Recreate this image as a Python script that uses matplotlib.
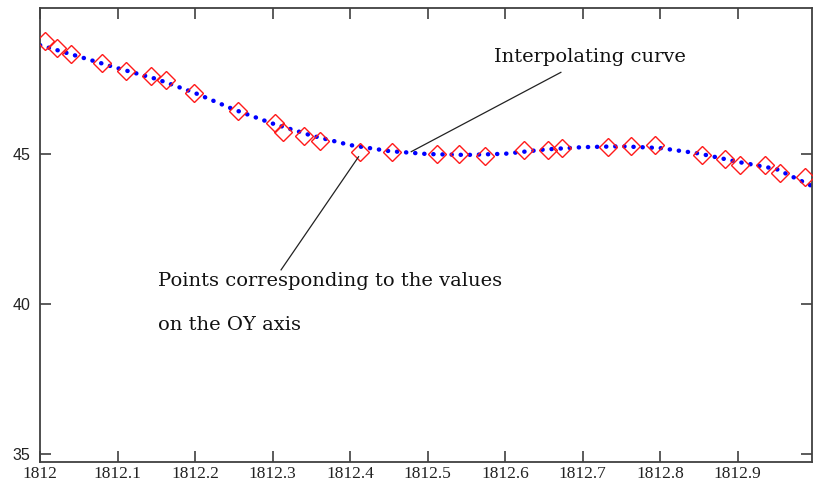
import matplotlib
matplotlib.use("Agg")
import matplotlib.pyplot as plt

# Data points (red diamonds)
point_x = [1812.006, 1812.022, 1812.040, 1812.080, 1812.111, 1812.143, 1812.163,
           1812.199, 1812.255, 1812.303, 1812.314, 1812.341, 1812.361, 1812.413,
           1812.454, 1812.512, 1812.541, 1812.574, 1812.624, 1812.655, 1812.673,
           1812.733, 1812.763, 1812.794, 1812.854, 1812.884, 1812.903, 1812.935,
           1812.955, 1812.987]
point_y = [48.78, 48.54, 48.35, 48.04, 47.79, 47.62, 47.48,
           47.04, 46.46, 46.04, 45.75, 45.61, 45.45, 45.09,
           45.07, 45.00, 45.00, 44.94, 45.13, 45.15, 45.21,
           45.24, 45.27, 45.30, 44.98, 44.84, 44.66, 44.66,
           44.39, 44.25]

# Interpolating curve (blue dotted)
curve_x = [1812.00, 1812.05, 1812.10, 1812.15, 1812.20, 1812.25, 1812.30,
           1812.35, 1812.40, 1812.45, 1812.50, 1812.55, 1812.60, 1812.65,
           1812.70, 1812.75, 1812.80, 1812.85, 1812.90, 1812.95, 1812.996]
curve_y = [48.65, 48.27, 47.88, 47.52, 47.05, 46.50, 46.03,
           45.63, 45.31, 45.11, 45.01, 44.98, 45.02, 45.16,
           45.24, 45.27, 45.21, 45.03, 44.75, 44.51, 43.94]

x_ticks = [1812, 1812.1, 1812.2, 1812.3, 1812.4, 1812.5, 1812.6, 1812.7, 1812.8, 1812.9]
x_tick_labels = ["1812", "1812.1", "1812.2", "1812.3", "1812.4", "1812.5",
                 "1812.6", "1812.7", "1812.8", "1812.9"]
y_ticks = [35, 40, 45]
y_tick_labels = ["35", "40", "45"]

fig = plt.figure(figsize=(8.15, 4.92), dpi=100)
ax = fig.add_axes([40 / 815, 1 - 462 / 492, 772 / 815, 454 / 492])

ax.plot(curve_x, curve_y, color="#0000ff", linewidth=3.2,
        linestyle=(0, (0.05, 2.0)), dash_capstyle="round", zorder=2)
ax.plot(point_x, point_y, linestyle="none", marker="D", markersize=9.5,
        markerfacecolor="none", markeredgecolor="#ff1a1a", markeredgewidth=1.0,
        zorder=3)

ax.set_xlim(1812, 1812.996)
ax.set_ylim(34.72, 49.89)
ax.set_xticks(x_ticks)
ax.set_xticklabels(x_tick_labels, family="Liberation Serif", fontsize=12.5)
ax.set_yticks(y_ticks)
ax.set_yticklabels(y_tick_labels, family="Liberation Sans", fontsize=11.5)

ax.tick_params(axis="both", direction="in", length=8, width=1.2, color="#404040",
               top=True, right=True, labelcolor="#222222")
ax.tick_params(axis="x", pad=3)
ax.tick_params(axis="y", pad=7)
for s in ax.spines.values():
    s.set_color("#404040")
    s.set_linewidth(1.3)

# Annotations
ax.plot([1812.672, 1812.479], [47.74, 45.09], color="#222222", linewidth=0.9, zorder=4)
ax.plot([1812.411, 1812.311], [44.92, 41.14], color="#222222", linewidth=0.9, zorder=4)
txt_kw = dict(family="DejaVu Serif", fontsize=14, va="center", ha="left",
              color="#111111")
ax.text(1812.586, 48.25, "Interpolating curve", **txt_kw)
ax.text(1812.152, 40.77, "Points corresponding to the values", **txt_kw)
ax.text(1812.152, 39.30, "on the OY axis", **txt_kw)

fig.savefig("out.png", dpi=100)
